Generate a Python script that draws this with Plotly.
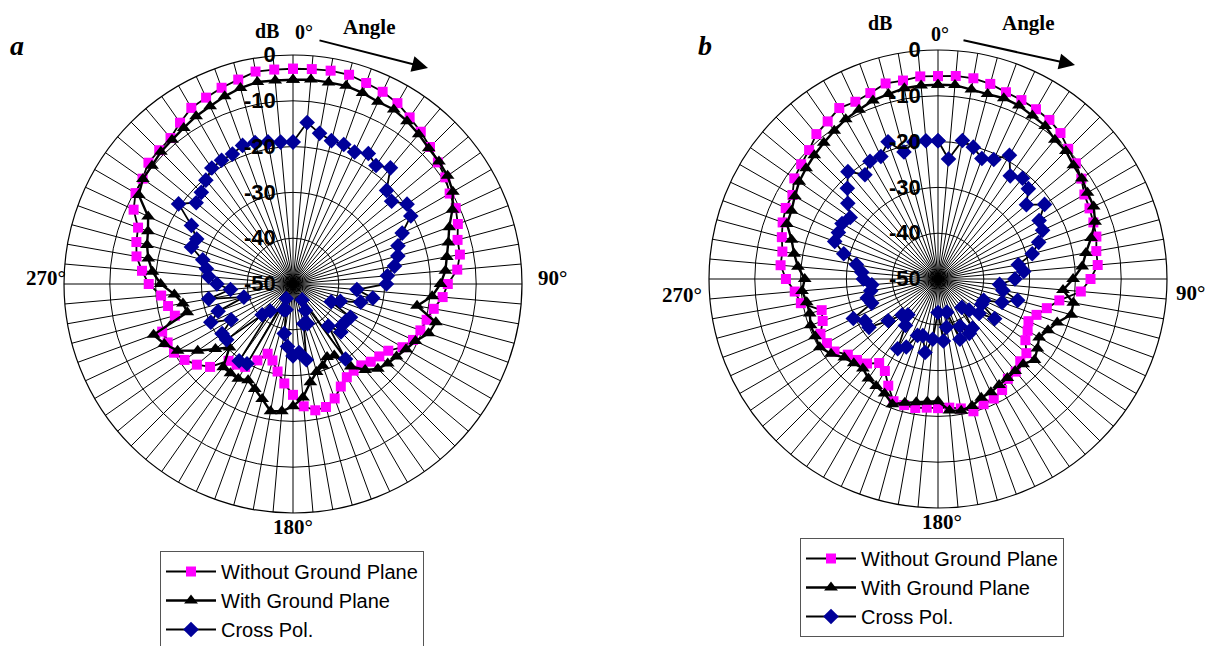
import plotly.graph_objects as go

# Angles (degrees) – 72 categories every 5 degrees
ANGLES = list(range(0, 360, 5))

# Panel a ------------------------------------------------------------
a_without = [-3.0, -2.9, -2.7, -2.7, -3.3, -3.7, -4.4, -5.6, -6.6, -7.7, -8.7, -9.4,
             -10.5, -10.8, -11.7, -12.8, -13.0, -14.0, -16.2, -17.2, -18.8, -19.8, -20.4, -21.1,
             -22.4, -24.6, -25.4, -26.0, -26.8, -26.9, -26.5, -25.3, -23.4, -22.2, -22.0, -23.2,
             -25.8, -28.2, -30.6, -32.7, -33.8, -31.6, -29.1, -28.5, -28.1, -24.4, -22.6, -21.1,
             -20.0, -19.8, -19.6, -23.3, -22.3, -21.1, -18.5, -16.9, -15.3, -14.6, -14.0, -11.6,
             -10.3, -9.9, -8.8, -8.7, -8.4, -7.0, -5.6, -5.1, -4.4, -3.8, -2.9, -3.0]
a_with = [-5.4, -5.2, -5.3, -5.2, -5.6, -6.1, -6.0, -6.6, -7.3, -8.1, -8.4, -8.8,
          -9.7, -11.6, -13.7, -14.9, -15.9, -16.6, -17.8, -19.5, -22.5, -17.7, -18.5, -20.5,
          -21.5, -22.4, -23.0, -23.8, -25.5, -28.0, -32.0, -32.4, -31.0, -30.1, -28.2, -25.1,
          -23.3, -22.1, -21.8, -24.0, -25.6, -26.8, -26.1, -26.2, -26.3, -30.4, -27.9, -24.6,
          -20.9, -19.0, -17.6, -26.1, -25.6, -24.0, -21.1, -19.2, -17.9, -17.0, -16.3, -15.1,
          -11.1, -10.0, -9.8, -9.2, -8.9, -8.4, -7.7, -7.2, -6.4, -5.7, -5.2, -5.4]
a_cross = [-19.0, -14.6, -16.6, -17.6, -17.6, -18.2, -17.1, -18.4, -16.9, -21.1, -21.9, -19.6,
           -20.3, -23.7, -25.6, -26.3, -27.5, -29.3, -29.6, -36.0, -32.3, -34.7, -39.0, -40.8,
           -35.5, -35.9, -36.0, -35.2, -38.0, -30.0, -46.0, -43.6, -40.8, -41.0, -33.2, -35.0,
           -34.3, -36.3, -39.0, -44.2, -44.0, -46.5, -29.9, -29.5, -42.3, -40.5, -31.1, -31.1,
           -34.4, -30.2, -32.6, -38.9, -31.3, -36.3, -33.4, -31.5, -30.8, -29.6, -26.4, -26.8,
           -24.4, -19.5, -22.4, -21.7, -20.4, -19.1, -18.8, -18.7, -17.8, -18.0, -18.5, -18.9]

# Panel b ------------------------------------------------------------
b_without = [-5.7, -5.5, -5.5, -5.9, -6.6, -6.9, -7.2, -7.6, -8.4, -9.8, -10.7, -11.8,
             -13.1, -13.5, -13.9, -14.2, -14.9, -15.0, -16.7, -18.7, -23.1, -25.4, -27.1, -28.2,
             -27.4, -26.7, -24.8, -24.6, -23.6, -23.4, -22.0, -21.2, -20.9, -20.1, -21.3, -21.8,
             -21.8, -21.8, -21.4, -21.5, -21.6, -24.3, -26.8, -27.6, -25.9, -25.0, -24.3, -22.4,
             -22.0, -21.7, -23.2, -23.7, -19.6, -18.6, -16.8, -15.5, -15.5, -14.7, -13.9, -13.3,
             -13.3, -11.7, -11.0, -10.2, -8.7, -8.0, -6.9, -7.3, -6.8, -5.8, -6.0, -5.6]
b_with = [-7.6, -7.5, -8.0, -8.2, -8.0, -8.2, -8.8, -9.2, -10.3, -10.5, -11.4, -11.7,
          -12.3, -12.5, -13.5, -15.4, -17.2, -18.4, -20.5, -22.6, -20.0, -19.9, -22.3, -23.5,
          -24.5, -23.5, -22.5, -23.7, -23.8, -23.6, -23.3, -22.7, -22.4, -21.3, -20.8, -21.2,
          -23.3, -23.1, -22.7, -22.0, -20.9, -22.4, -23.0, -23.5, -24.5, -24.0, -23.3, -21.5,
          -20.2, -20.4, -20.4, -21.0, -20.9, -20.2, -20.9, -19.3, -18.1, -16.9, -14.9, -14.7,
          -13.9, -13.0, -12.4, -11.8, -11.2, -10.5, -9.7, -9.2, -8.5, -8.2, -7.7, -7.6]
b_cross = [-19.8, -23.7, -19.3, -20.2, -22.0, -21.2, -18.8, -22.5, -21.3, -22.1, -24.8, -21.6,
           -24.5, -24.8, -26.6, -28.7, -32.2, -31.2, -33.2, -36.5, -35.6, -32.0, -35.1, -39.0,
           -39.0, -34.9, -38.3, -40.4, -41.9, -36.9, -36.3, -38.6, -36.0, -42.5, -39.3, -36.4,
           -42.7, -36.8, -33.7, -37.2, -36.9, -33.6, -32.4, -37.6, -39.8, -38.9, -35.8, -31.6,
           -31.6, -29.6, -34.6, -34.0, -35.1, -35.5, -33.7, -33.3, -31.9, -28.7, -26.0, -26.0,
           -25.8, -26.6, -24.3, -22.0, -19.4, -22.2, -20.3, -20.5, -18.1, -21.3, -19.6, -19.7]

SERIES_NAMES = ["Without Ground Plane", "With Ground Plane", "Cross Pol."]
RADIAL_TICKS = [0, -10, -20, -30, -40, -50]

MAGENTA = "#FF00FF"
NAVY = "#000099"

fig = go.Figure()


def closed(v):
    return list(v) + [v[0]]


def add_panel(polar, legend, without, withgp, cross):
    th = closed(ANGLES)
    fig.add_trace(go.Scatterpolar(
        r=closed(without), theta=th, subplot=polar, legend=legend,
        name=SERIES_NAMES[0], mode="lines+markers",
        line=dict(color="black", width=1.8),
        marker=dict(symbol="square", size=10, color=MAGENTA)))
    fig.add_trace(go.Scatterpolar(
        r=closed(withgp), theta=th, subplot=polar, legend=legend,
        name=SERIES_NAMES[1], mode="lines+markers",
        line=dict(color="black", width=2.4),
        marker=dict(symbol="triangle-up", size=12, color="black")))
    fig.add_trace(go.Scatterpolar(
        r=closed(cross), theta=th, subplot=polar, legend=legend,
        name=SERIES_NAMES[2], mode="lines+markers",
        line=dict(color="black", width=1.8),
        marker=dict(symbol="diamond", size=12, color=NAVY)))


add_panel("polar", "legend", a_without, a_with, a_cross)
add_panel("polar2", "legend2", b_without, b_with, b_cross)


def polar_layout(xd, yd):
    return dict(
        domain=dict(x=xd, y=yd),
        bgcolor="white",
        radialaxis=dict(
            range=[-50, 0], tickvals=RADIAL_TICKS, ticktext=[str(t) for t in RADIAL_TICKS],
            angle=90, side="counterclockwise", tickangle=90,
            showline=False, ticks="outside", ticklen=9, tickcolor="rgba(0,0,0,0)",
            gridcolor="black", gridwidth=1,
            tickfont=dict(family="Liberation Sans", size=22, color="black", weight="bold"),
        ),
        angularaxis=dict(
            rotation=90, direction="clockwise", tickmode="linear", tick0=0, dtick=5,
            showticklabels=False, ticks="", gridcolor="black", gridwidth=1,
            showline=True, linecolor="black", linewidth=1.2,
        ),
    )


W, H = 1212, 646


def px(x):
    return x / W


def py(y):
    return 1 - y / H


fig.update_layout(
    width=W, height=H,
    margin=dict(l=0, r=0, t=0, b=0, autoexpand=False),
    paper_bgcolor="white",
    polar=polar_layout([px(64), px(522)], [py(513), py(55)]),
    polar2=polar_layout([px(709), px(1167)], [py(508), py(50)]),
    legend=dict(x=px(160), y=py(551), xanchor="left", yanchor="top",
                bgcolor="white", bordercolor="#555555", borderwidth=1,
                font=dict(family="Liberation Sans", size=20, color="black"),
                itemwidth=50, tracegroupgap=0),
    legend2=dict(x=px(800), y=py(538), xanchor="left", yanchor="top",
                 bgcolor="white", bordercolor="#555555", borderwidth=1,
                 font=dict(family="Liberation Sans", size=20, color="black"),
                 itemwidth=50, tracegroupgap=0),
    showlegend=True,
)

SERIF = dict(family="Liberation Serif", size=21, color="black", weight="bold")
labels = [
    ("<i>a</i>", 17, 45, 28, "center"),
    ("<i>b</i>", 705, 45, 28, "center"),
    ("dB", 267, 31, 20, "center"), ("0°", 304, 32, 20, "center"),
    ("Angle", 370, 27, 21, "center"),
    ("270°", 68, 278, 21, "right"), ("90°", 536, 278, 21, "left"),
    ("180°", 293, 527, 21, "center"),
    ("dB", 880, 23, 20, "center"), ("0°", 940, 34, 20, "center"),
    ("Angle", 1028, 23, 21, "center"),
    ("270°", 704, 295, 21, "right"), ("90°", 1207, 293, 21, "right"),
    ("180°", 942, 522, 21, "center"),
]
for text, x, y, s, anchor in labels:
    f = dict(SERIF)
    f["size"] = s
    fig.add_annotation(x=px(x), y=py(y), xref="paper", yref="paper", text=text,
                       showarrow=False, font=f, xanchor=anchor, yanchor="middle")

# direction arrows (tail offset given in pixels)
for (x0, y0, x1, y1) in [(318, 40, 428, 68), (962, 40, 1075, 65)]:
    fig.add_annotation(x=px(x1), y=py(y1), ax=x0 - x1, ay=y0 - y1,
                       xref="paper", yref="paper", axref="pixel", ayref="pixel",
                       text="", showarrow=True, arrowhead=2, arrowsize=1.6,
                       arrowwidth=2, arrowcolor="black")

fig.write_html("out.html", config={"displayModeBar": False},
               post_script="document.body.style.margin='0';")
